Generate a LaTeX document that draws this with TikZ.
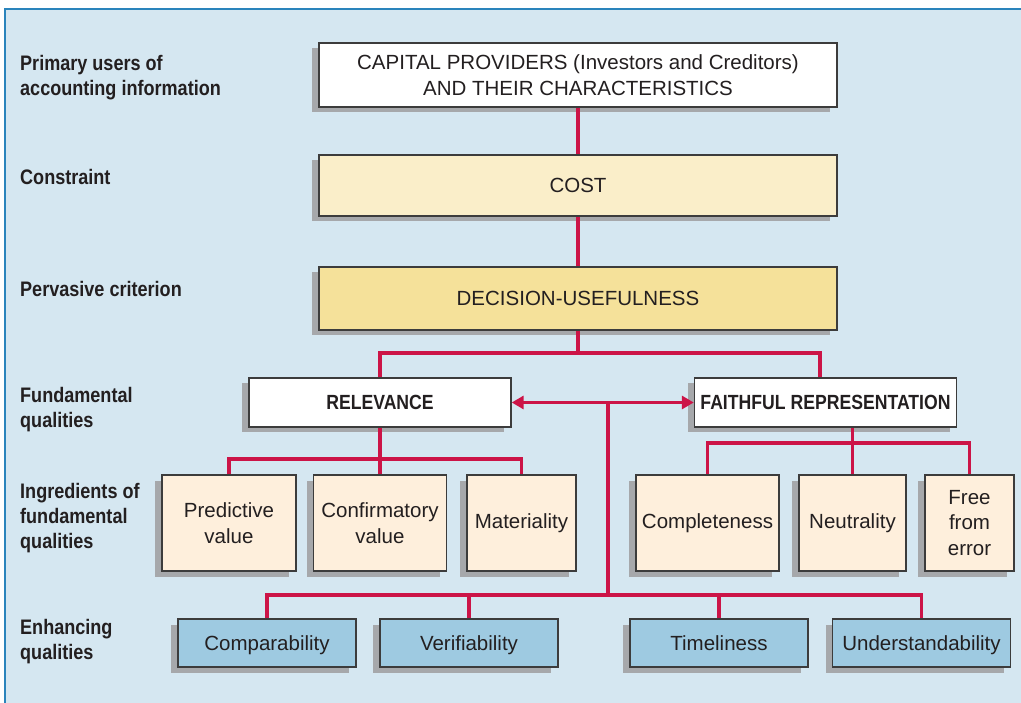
\documentclass[tikz,border=0pt]{standalone}
\usepackage{fontspec}
\setmainfont{Liberation Sans}
\newfontfamily\condfont{Liberation Sans}[FakeStretch=0.86]
\usetikzlibrary{shadows,arrows.meta}

\definecolor{bgblue}{HTML}{D5E7F1}
\definecolor{frameblue}{HTML}{2A84BC}
\definecolor{linkred}{HTML}{CC1447}
\definecolor{shadowgray}{HTML}{A6A8AB}
\definecolor{boxline}{HTML}{3C3C3C}
\definecolor{labeltext}{HTML}{231F20}
\definecolor{costfill}{HTML}{FAEEC9}
\definecolor{decfill}{HTML}{F5E19A}
\definecolor{ingfill}{HTML}{FEEFDC}
\definecolor{enhfill}{HTML}{9ECAE1}

\newcommand{\boxfont}{\fontsize{20.5}{25.5}\selectfont}
\newcommand{\sidefont}{\condfont\bfseries\fontsize{21}{25}\selectfont}

\begin{document}
\begin{tikzpicture}[x=1pt,y=-1pt,
        box/.style={draw=boxline,line width=1.4pt,inner sep=0pt,align=center,
            text=labeltext,font=\boxfont,
            drop shadow={shadow xshift=-7pt,shadow yshift=-5.5pt,fill=shadowgray,opacity=1}},
        link/.style={draw=linkred,line width=3.3pt}]
        \useasboundingbox (0,0) rectangle (1021,703);
        \fill[bgblue] (5,9) rectangle (1021,703);
        \draw[frameblue,line width=2pt] (5,703) -- (5,9) -- (1021,9);
        % row labels
        \begin{scope}[every node/.style={anchor=north west,inner sep=0pt,align=left,font=\sidefont,text=labeltext}]
            \node (a) at (20,55) {Primary users of\\accounting information};
            \node (b) at (20,169) {Constraint};
            \node (c) at (20,281) {Pervasive criterion};
            \node (d) at (20,387) {Fundamental\\qualities};
            \node (e) at (20,483) {Ingredients of\\fundamental\\qualities};
            \node (f) at (20,619) {Enhancing\\qualities};
        \end{scope}
        \begin{scope}[every node/.style={box,minimum width=518pt}]
            \node[fill=white,minimum height=64pt] (1) at (578,75) {CAPITAL PROVIDERS (Investors and Creditors)\\AND THEIR CHARACTERISTICS};
            \node[fill=costfill,minimum height=61pt] (2) at (578,185.5) {COST};
            \node[fill=decfill,minimum height=63pt] (3) at (578,298.5) {DECISION-USEFULNESS};
        \end{scope}
        \begin{scope}[every node/.style={box,fill=white,minimum height=49pt,minimum width=262pt,
                font=\condfont\bfseries\fontsize{20.5}{24}\selectfont}]
            \node (4) at (380,402.5) {RELEVANCE};
            \node (5) at (825.5,402.5) {FAITHFUL REPRESENTATION};
        \end{scope}
        \begin{scope}[every node/.style={box,fill=ingfill,minimum height=96pt}]
            \node[minimum width=134pt] (6) at (229,523) {Predictive\\value};
            \node[minimum width=133pt] (7) at (380,523) {Confirmatory\\value};
            \node[minimum width=109pt] (8) at (521.5,523) {Materiality};
            \node[minimum width=143pt] (9) at (707.5,523) {Completeness};
            \node[minimum width=107pt] (10) at (852.5,523) {Neutrality};
            \node[minimum width=89pt] (11) at (969.5,523) {Free\\from\\error};
        \end{scope}
        \begin{scope}[every node/.style={box,fill=enhfill,minimum height=48pt,minimum width=178pt,
                text height=18pt,text depth=3pt}]
            \node (12) at (267,643) {Comparability};
            \node (13) at (469,643) {Verifiability};
            \node (14) at (719,643) {Timeliness};
            \node (15) at (921.5,643) {Understandability};
        \end{scope}
        \coordinate (hub) at (608,402.5);
        \coordinate (k1) at (820,353);
        \coordinate (r2) at (0,459);
        \coordinate (r3) at (0,443);
        \coordinate (r4) at (0,595);
        \begin{scope}[every edge/.style={link}]
            \path
                (1) edge (2)
                (2) edge (3)
                (3) edge (3 |- k1);
            \path
                (4) edge (7)
                (10) edge (10 |- 5.south)
                (hub) edge (hub |- r4);
            \path
                (13) edge (13 |- r4)
                (14) edge (14 |- r4);
        \end{scope}
        \draw[link] (4) |- (k1) -- (k1 |- 5.north);
        \draw[link] (6) |- (4 |- r2) -| (8);
        \draw[link] (9) |- (11 |- r3) -- (11);
        \draw[link] (12) |- (15 |- r4) -- (15);
        \draw[link,{Triangle[length=12pt,width=13pt]}-{Triangle[length=12pt,width=13pt]}] (4) -- (5);
    \end{tikzpicture}
\end{document}
